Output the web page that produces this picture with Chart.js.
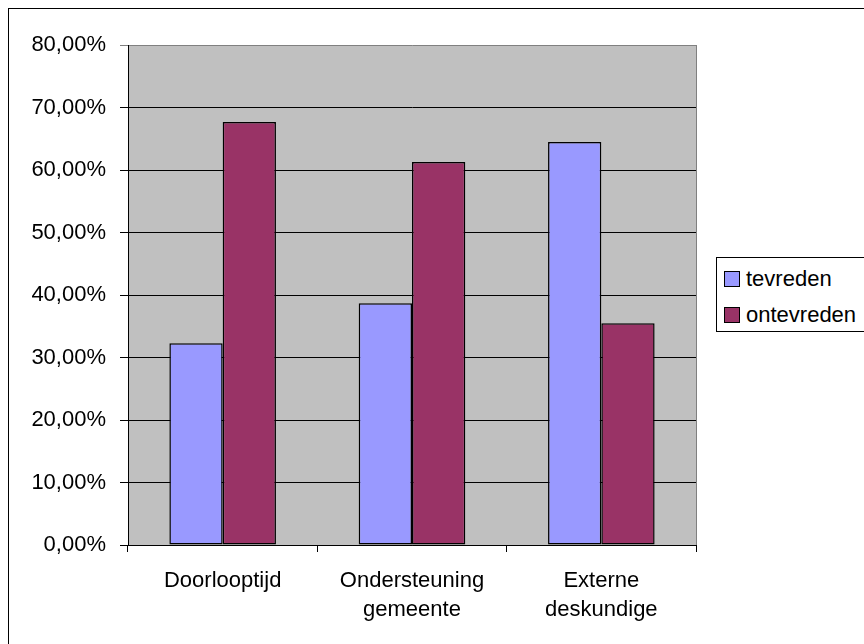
<!DOCTYPE html>
<html>
<head>
<meta charset="utf-8">
<script src="https://cdn.jsdelivr.net/npm/chart.js@4/dist/chart.umd.min.js"></script>
<style>
  html, body { margin: 0; padding: 0; background: #fff; overflow: hidden; }
  #wrap { position: relative; width: 864px; height: 644px; overflow: hidden; }
  #frame { position: absolute; left: 8px; top: 8px; width: 900px; height: 700px; border: 1px solid #000; box-sizing: border-box; }
  canvas { position: absolute; left: 0; top: 0; }
  #legend { position: absolute; left: 716px; top: 257px; width: 170px; height: 75px; border: 1px solid #000; background: #fff; box-sizing: border-box;
            font-family: "Liberation Sans", Arial, sans-serif; font-size: 22px; color: #000; }
  .item { position: absolute; left: 7px; height: 26px; line-height: 26px; white-space: nowrap; }
  .swatch { display: inline-block; width: 16px; height: 16px; border: 1px solid #000; box-sizing: border-box; vertical-align: -1px; margin-right: 6px; }
</style>
</head>
<body>
<div id="wrap">
  <div id="frame"></div>
  <canvas id="c" width="864" height="644"></canvas>
  <div id="legend"></div>
</div>
<script>
// Satisfaction per topic (percent of respondents)
const categories = [["Doorlooptijd"], ["Ondersteuning", "gemeente"], ["Externe", "deskundige"]];
const seriesNames = ["tevreden", "ontevreden"];
const tevreden = [32.3, 38.7, 64.5];
const ontevreden = [67.7, 61.3, 35.5];
const seriesColors = ["#9999FF", "#993366"];
const yTicks = [0, 10, 20, 30, 40, 50, 60, 70, 80];

const fmtPct = v => v.toFixed(2).replace('.', ',') + '%';
const FONT = { family: '"Liberation Sans", Arial, sans-serif', size: 22 };

// Gray plot area with a gray frame on the top and right edges
const plotBackground = {
  id: 'plotBackground',
  beforeDraw(chart) {
    const { ctx, chartArea: a } = chart;
    ctx.save();
    ctx.fillStyle = '#C0C0C0';
    ctx.fillRect(a.left, a.top, a.right - a.left, a.bottom - a.top);
    ctx.restore();
  },
  afterDatasetsDraw(chart) {
    const { ctx, chartArea: a } = chart;
    ctx.save();
    ctx.strokeStyle = '#808080';
    ctx.lineWidth = 1;
    ctx.beginPath();
    ctx.moveTo(Math.round(a.right) + 0.5, a.top);
    ctx.lineTo(Math.round(a.right) + 0.5, a.bottom);
    ctx.stroke();
    ctx.restore();
  }
};

const datasets = [tevreden, ontevreden].map((d, i) => ({
  label: seriesNames[i],
  data: d,
  backgroundColor: seriesColors[i],
  borderColor: '#000',
  borderWidth: 1.5,
  borderSkipped: false,
  barPercentage: 1,
  categoryPercentage: 0.563
}));

new Chart(document.getElementById('c'), {
  type: 'bar',
  data: { labels: categories, datasets },
  plugins: [plotBackground],
  options: {
    responsive: false,
    animation: false,
    devicePixelRatio: 1,
    layout: { padding: { left: 0, top: 45, right: 168, bottom: 0 } },
    plugins: { legend: { display: false }, tooltip: { enabled: false } },
    scales: {
      x: {
        afterFit(s) { s.height = 99; },
        grid: { offset: true, drawOnChartArea: false, drawTicks: true, tickLength: 7, color: '#000', lineWidth: 1 },
        border: { color: '#000', width: 1 },
        ticks: { color: '#000', font: { ...FONT, lineHeight: 1.33 }, padding: 14, maxRotation: 0, autoSkip: false }
      },
      y: {
        min: 0, max: 80,
        afterFit(s) { s.width = 128; },
        afterBuildTicks(s) { s.ticks = yTicks.map(v => ({ value: v })); },
        grid: {
          color: c => (c.tick && c.tick.value === 80) ? '#808080' : '#000',
          lineWidth: 1, tickLength: 8
        },
        border: { color: '#000', width: 1 },
        ticks: { color: '#000', font: FONT, padding: 14, callback: v => fmtPct(v) }
      }
    }
  }
});

// Legend box beside the plot
const legend = document.getElementById('legend');
seriesNames.forEach((name, i) => {
  const item = document.createElement('div');
  item.className = 'item';
  item.style.top = (8 + i * 36) + 'px';
  const sw = document.createElement('span');
  sw.className = 'swatch';
  sw.style.background = seriesColors[i];
  item.appendChild(sw);
  item.appendChild(document.createTextNode(name));
  legend.appendChild(item);
});
</script>
</body>
</html>
